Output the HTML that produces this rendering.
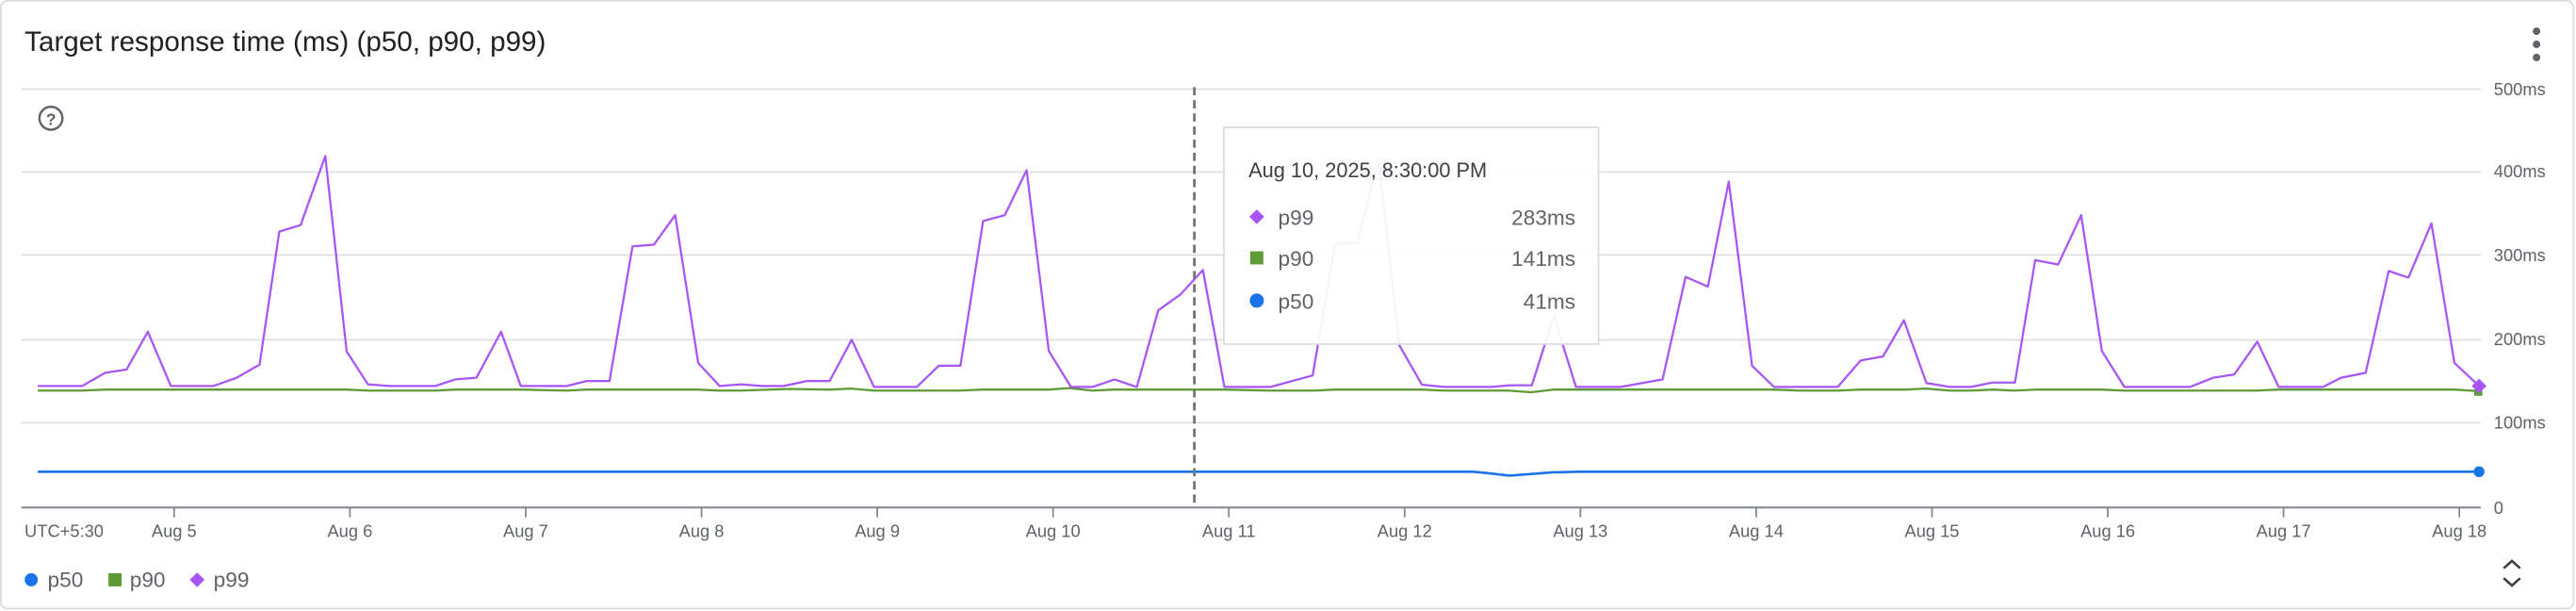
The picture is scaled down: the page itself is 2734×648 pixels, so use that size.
<!DOCTYPE html>
<html><head><meta charset="utf-8"><style>
html,body{margin:0;padding:0;background:#fff;}
svg{display:block;font-family:"Liberation Sans",Arial,sans-serif;}
</style></head><body>
<svg width="2734" height="648" viewBox="0 0 1568 372" preserveAspectRatio="none" xmlns="http://www.w3.org/2000/svg">
<rect x="0.5" y="0.5" width="1566" height="370" rx="4" fill="#fff" stroke="#dadce0" stroke-width="1"/>
<text x="15" y="31" font-size="17" fill="#202124">Target response time (ms) (p50, p90, p99)</text>
<circle cx="1544" cy="19" r="2.3" fill="#5f6368"/><circle cx="1544" cy="27" r="2.3" fill="#5f6368"/><circle cx="1544" cy="35" r="2.3" fill="#5f6368"/>
<circle cx="31" cy="72" r="7" fill="none" stroke="#5f6368" stroke-width="1.4"/>
<text x="31" y="76" font-size="10" fill="#5f6368" text-anchor="middle" font-weight="bold">?</text>
<g stroke="#dadce0" stroke-width="0.9">
<line x1="13" y1="54.3" x2="1510" y2="54.3"/><line x1="13" y1="104.7" x2="1510" y2="104.7"/>
<line x1="13" y1="155.2" x2="1510" y2="155.2"/><line x1="13" y1="206.9" x2="1510" y2="206.9"/>
<line x1="13" y1="257.3" x2="1510" y2="257.3"/>
</g>
<line x1="13" y1="309" x2="1510" y2="309" stroke="#80868b" stroke-width="1.1"/>
<g stroke="#80868b" stroke-width="1">
<line x1="106" y1="309" x2="106" y2="315"/><line x1="213" y1="309" x2="213" y2="315"/><line x1="320" y1="309" x2="320" y2="315"/><line x1="427" y1="309" x2="427" y2="315"/><line x1="534" y1="309" x2="534" y2="315"/><line x1="641" y1="309" x2="641" y2="315"/><line x1="748" y1="309" x2="748" y2="315"/><line x1="855" y1="309" x2="855" y2="315"/><line x1="962" y1="309" x2="962" y2="315"/><line x1="1069" y1="309" x2="1069" y2="315"/><line x1="1176" y1="309" x2="1176" y2="315"/><line x1="1283" y1="309" x2="1283" y2="315"/><line x1="1390" y1="309" x2="1390" y2="315"/><line x1="1497" y1="309" x2="1497" y2="315"/>
</g>
<g font-size="10.5" fill="#5f6368" text-anchor="middle">
<text x="39" y="327">UTC+5:30</text>
<text x="106" y="327">Aug 5</text><text x="213" y="327">Aug 6</text><text x="320" y="327">Aug 7</text><text x="427" y="327">Aug 8</text><text x="534" y="327">Aug 9</text><text x="641" y="327">Aug 10</text><text x="748" y="327">Aug 11</text><text x="855" y="327">Aug 12</text><text x="962" y="327">Aug 13</text><text x="1069" y="327">Aug 14</text><text x="1176" y="327">Aug 15</text><text x="1283" y="327">Aug 16</text><text x="1390" y="327">Aug 17</text><text x="1497" y="327">Aug 18</text>
</g>
<g font-size="10.5" fill="#5f6368">
<text x="1518" y="58">500ms</text><text x="1518" y="108">400ms</text><text x="1518" y="159">300ms</text><text x="1518" y="210">200ms</text><text x="1518" y="261">100ms</text><text x="1518" y="313">0</text>
</g>
<polyline fill="none" stroke="#1a73e8" stroke-width="1.5" points="23,287.2 897,287.2 905,288 919,289.6 945,287.6 960,287.2 1509,287.2"/>
<polyline fill="none" stroke="#5e9a36" stroke-width="1.3" points="23,237.8 50,237.8 64,237.2 170,237.2 211,237.2 224,237.8 265,237.8 277,237.2 305,237.2 317,237.2 345,237.8 357,237.2 425,237.2 438,237.8 451,237.8 480,236.8 505,237.2 518,236.6 532,237.8 584,237.8 598,237.2 638,237.2 651,236.3 665,237.8 678,237.2 745,237.2 773,237.8 800,237.8 813,237.2 866,237.2 879,237.8 918,237.8 932,238.8 946,237.2 1080,237.2 1094,237.8 1119,237.8 1132,237.2 1160,237.2 1172,236.6 1187,237.8 1200,237.8 1213,237.2 1226,237.8 1239,237.2 1279,237.2 1293,237.8 1374,237.8 1387,237.2 1494,237.2 1509,238.2"/>
<polyline fill="none" stroke="#a855f7" stroke-width="1.3" stroke-linejoin="round" points="23,235 50,235 64,227 77,225 90,202 104,235 130,235 144,230 158,222 170,141 183,137 198,95 211,214 224,234 237,235 265,235 277,231 290,230 305,202 317,235 345,235 357,232 371,232 385,150 398,149 411,131 425,221 438,235 451,234 464,235 477,235 491,232 505,232 518.4,206.9 532,235.6 558,235.6 571.4,222.7 584.6,222.7 598.4,134.6 611.6,131 624.9,103.6 638.4,213.7 651.9,235.6 665,235.6 678.4,231 692,235.6 705,189 718.5,179.3 732.2,164.4 745.3,235.6 773.3,235.6 799,228.6 812.8,148.2 826,148.2 839.2,97.5 851.8,210.3 865.5,234.2 879,235.6 907.7,235.6 919,234.6 932.4,234.6 945.8,192.5 959.3,235.6 986.4,235.6 1012,231 1026,168.6 1039.6,174.5 1052.3,110.5 1066.5,222.7 1079.9,235.6 1118.6,235.6 1132.5,219.5 1146.2,217 1158.9,195 1172.6,233.2 1187,235.6 1199.7,235.6 1212.8,232.9 1226.5,232.9 1238.8,158.4 1252.8,161 1266.8,131 1279.4,213.7 1293.1,235.6 1333,235.6 1347,230 1360,228 1374,208 1387,235.6 1414,235.6 1425,230 1440,227 1454,165 1466,169 1480,136 1494,221 1509,235"/>
<rect x="1506" y="237" width="5" height="4" fill="#5e9a36"/>
<circle cx="1509" cy="287.2" r="3.3" fill="#1a73e8"/>
<polygon points="1509,230.5 1513.5,235 1509,239.5 1504.5,235" fill="#a855f7"/>
<line x1="727" y1="53" x2="727" y2="308" stroke="#70757a" stroke-width="1.6" stroke-dasharray="5,3"/>
<rect x="745" y="77.5" width="228" height="132" fill="#fff" fill-opacity="0.92" stroke="#dadce0" stroke-width="1"/>
<text x="760" y="108" font-size="12.5" fill="#3c4043">Aug 10, 2025, 8:30:00 PM</text>
<polygon points="765,127.5 769.5,132 765,136.5 760.5,132" fill="#a855f7"/>
<rect x="761" y="153" width="8" height="8" fill="#5e9a36"/>
<circle cx="765" cy="183" r="4.3" fill="#1a73e8"/>
<g font-size="13" fill="#5f6368">
<text x="778" y="137">p99</text><text x="778" y="162">p90</text><text x="778" y="188">p50</text>
</g>
<g font-size="13" fill="#5f6368" text-anchor="end">
<text x="959" y="137">283ms</text><text x="959" y="162">141ms</text><text x="959" y="188">41ms</text>
</g>
<circle cx="19" cy="353" r="4" fill="#1a73e8"/>
<text x="29" y="357.5" font-size="13" fill="#5f6368">p50</text>
<rect x="66" y="349" width="8" height="8" fill="#5e9a36"/>
<text x="79" y="357.5" font-size="13" fill="#5f6368">p90</text>
<polygon points="120,348.5 124.5,353 120,357.5 115.5,353" fill="#a855f7"/>
<text x="130" y="357.5" font-size="13" fill="#5f6368">p99</text>
<polyline points="1524,346 1529,341.5 1534,346" fill="none" stroke="#3c4043" stroke-width="1.5"/>
<polyline points="1524,352 1529,356.5 1534,352" fill="none" stroke="#3c4043" stroke-width="1.5"/>
</svg>
</body></html>
